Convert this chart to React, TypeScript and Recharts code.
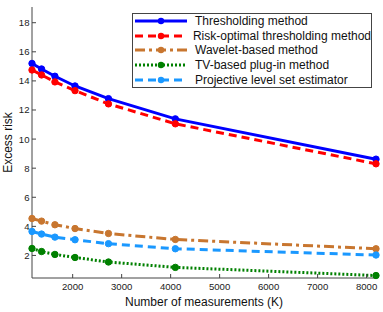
import { LineChart, Line, XAxis, YAxis, Legend } from 'recharts';

const measurements = [1170, 1365, 1638, 2048, 2731, 4096, 8192];
const thresholding = [15.2, 14.82, 14.32, 13.65, 12.78, 11.39, 8.62];
const riskOptimal = [14.75, 14.41, 13.93, 13.33, 12.42, 11.05, 8.3];
const waveletBased = [4.54, 4.36, 4.11, 3.85, 3.51, 3.1, 2.46];
const tvPlugIn = [2.48, 2.27, 2.07, 1.86, 1.55, 1.18, 0.62];
const projective = [3.65, 3.47, 3.26, 3.08, 2.81, 2.46, 2.03];

const xTicks = [2000, 3000, 4000, 5000, 6000, 7000, 8000];
const yTicks = [2, 4, 6, 8, 10, 12, 14, 16, 18];

const data = measurements.map((k, i) => ({
  k,
  thresholding: thresholding[i],
  riskOptimal: riskOptimal[i],
  waveletBased: waveletBased[i],
  tvPlugIn: tvPlugIn[i],
  projective: projective[i],
}));

const series = [
  { key: 'thresholding', name: 'Thresholding method', color: '#0000ff', dash: undefined },
  { key: 'riskOptimal', name: 'Risk-optimal thresholding method', color: '#ff0000', dash: '8 5' },
  { key: 'waveletBased', name: 'Wavelet-based method', color: '#c8762f', dash: '10 4 3 4' },
  { key: 'tvPlugIn', name: 'TV-based plug-in method', color: '#008000', dash: '2 2' },
  { key: 'projective', name: 'Projective level set estimator', color: '#1a98ff', dash: '8 5' },
];

const FONT = '"Liberation Sans", Arial, Helvetica, sans-serif';
const AXIS = '#444';

const BottomTick = ({ x, y, payload }: any) => (
  <g>
    <line x1={x} y1={y} x2={x} y2={y - 4} stroke={AXIS} />
    <text x={x} y={y + 12} textAnchor="middle" fontSize={9.6} fill="#222" fontFamily={FONT}>{payload.value}</text>
  </g>
);

const TopTick = ({ x, y }: any) => <line x1={x} y1={y} x2={x} y2={y + 4} stroke={AXIS} />;

const LeftTick = ({ x, y, payload }: any) => (
  <g>
    <line x1={x} y1={y} x2={x + 4} y2={y} stroke={AXIS} />
    <text x={x - 2.5} y={y + 3.5} textAnchor="end" fontSize={9.6} fill="#222" fontFamily={FONT}>{payload.value}</text>
  </g>
);

const RightTick = ({ x, y }: any) => <line x1={x} y1={y} x2={x - 4} y2={y} stroke={AXIS} />;

const LegendBox = () => (
  <div style={{ width: 240, height: 75, border: `1px solid ${AXIS}`, background: '#fff', boxSizing: 'border-box', fontFamily: FONT, fontSize: 12, color: '#111' }}>
    {series.map((s) => (
      <div key={s.key} style={{ display: 'flex', alignItems: 'center', height: 14.6 }}>
        <svg width={56} height={10} style={{ marginLeft: 1 }}>
          <line x1={1} y1={5} x2={53} y2={5} stroke={s.color} strokeWidth={3} strokeDasharray={s.dash} />
          <circle cx={27} cy={5} r={3.2} fill={s.color} />
        </svg>
        <span style={{ marginLeft: 5, whiteSpace: 'nowrap' }}>{s.name}</span>
      </div>
    ))}
  </div>
);

export default function App() {
  return (
    <div style={{ position: 'absolute', left: 0, top: 0, width: 383, height: 312, background: '#fff', fontFamily: FONT }}>
      <LineChart width={383} height={312} data={data} margin={{ top: 7, right: 7, left: 0, bottom: 0 }}>
        <XAxis
          xAxisId="b"
          dataKey="k"
          type="number"
          domain={[1170, 8192]}
          ticks={xTicks}
          interval={0}
          height={34}
          stroke={AXIS}
          tickLine={false}
          tickSize={0}
          tickMargin={0}
          tick={<BottomTick />}
          label={{ value: 'Number of measurements (K)', position: 'insideBottom', offset: 6, fontSize: 12, fill: '#111', fontFamily: FONT }}
        />
        <XAxis
          xAxisId="t"
          dataKey="k"
          type="number"
          orientation="top"
          domain={[1170, 8192]}
          ticks={xTicks}
          interval={0}
          height={0}
          stroke={AXIS}
          tickLine={false}
          tickSize={0}
          tickMargin={0}
          tick={<TopTick />}
        />
        <YAxis
          yAxisId="l"
          type="number"
          domain={[0.45, 19.08]}
          ticks={yTicks}
          interval={0}
          width={32}
          stroke={AXIS}
          tickLine={false}
          tickSize={0}
          tickMargin={0}
          tick={<LeftTick />}
          label={{ value: 'Excess risk', angle: -90, position: 'insideLeft', offset: 7.5, fontSize: 12, fill: '#111', fontFamily: FONT, style: { textAnchor: 'middle' } }}
        />
        <YAxis
          yAxisId="r"
          type="number"
          orientation="right"
          domain={[0.45, 19.08]}
          ticks={yTicks}
          interval={0}
          width={0}
          stroke={AXIS}
          tickLine={false}
          tickSize={0}
          tickMargin={0}
          tick={<RightTick />}
        />
        <Legend
          layout="horizontal"
          align="center"
          verticalAlign="middle"
          wrapperStyle={{ left: 132, top: 13, width: 241 }}
          content={<LegendBox />}
        />
        {series.map((s) => (
          <Line
            key={s.key}
            xAxisId="b"
            yAxisId="l"
            type="linear"
            dataKey={s.key}
            name={s.name}
            stroke={s.color}
            strokeWidth={3}
            strokeDasharray={s.dash}
            dot={{ r: 3.2, fill: s.color, stroke: s.color, strokeWidth: 1, strokeDasharray: 'none' }}
            isAnimationActive={false}
          />
        ))}
      </LineChart>
    </div>
  );
}
